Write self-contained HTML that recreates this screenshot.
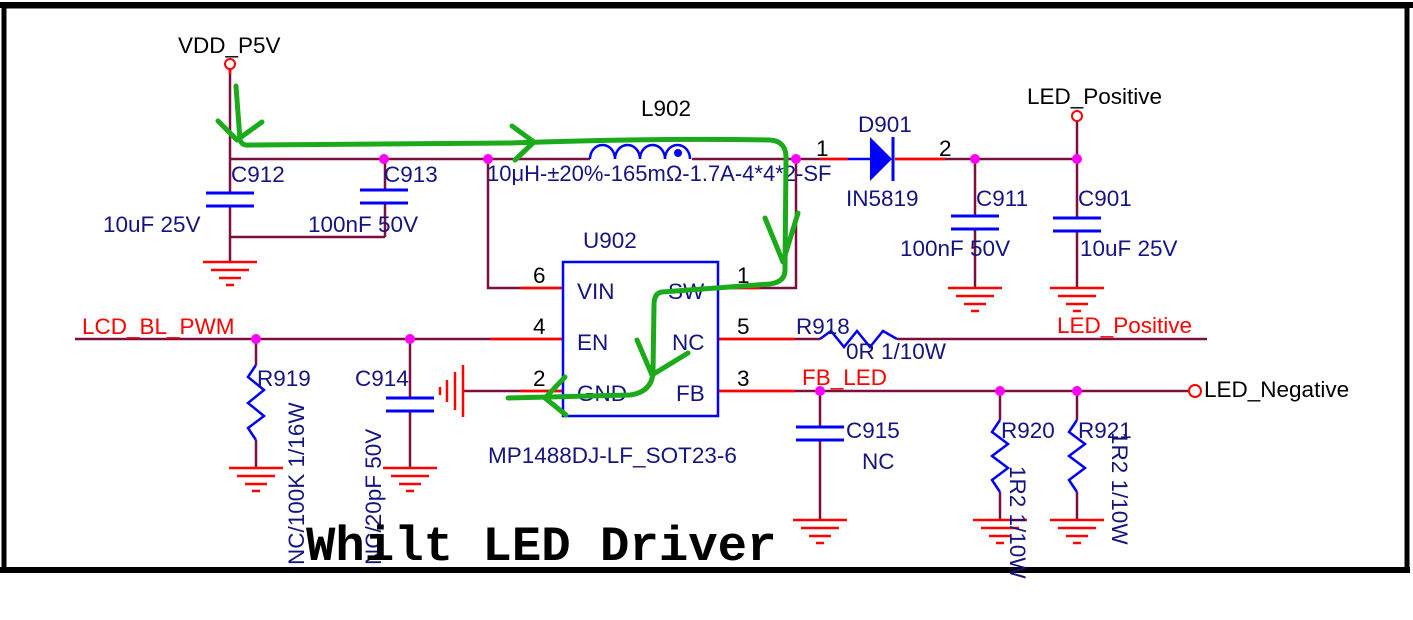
<!DOCTYPE html>
<html><head><meta charset="utf-8"><style>
html,body{margin:0;padding:0;background:#fff;}
svg{display:block;}
text{font-family:"Liberation Sans",sans-serif;font-size:22.5px;}
.b{fill:#141480}.k{fill:#000}.r{fill:#f00}
</style></head><body>
<svg width="1413" height="620" viewBox="0 0 1413 620" xmlns="http://www.w3.org/2000/svg">
<defs>
<g id="gnd"><line x1="-27" y1="0" x2="27" y2="0" stroke="#f00" stroke-width="2.5"/><line x1="-19" y1="8" x2="19" y2="8" stroke="#f00" stroke-width="2.5"/><line x1="-11" y1="16" x2="11" y2="16" stroke="#f00" stroke-width="2.5"/><line x1="-4" y1="23" x2="4" y2="23" stroke="#f00" stroke-width="2.5"/></g>
<g id="capv"><line x1="-24" y1="0" x2="24" y2="0" stroke="#00f" stroke-width="3"/><line x1="-24" y1="13" x2="24" y2="13" stroke="#00f" stroke-width="3"/></g>
</defs>
<rect x="4" y="6" width="1403" height="564" fill="none" stroke="#000" stroke-width="5"/>
<line x1="0" y1="5" x2="1413" y2="5" stroke="#000" stroke-width="6"/>
<line x1="0" y1="570" x2="1410" y2="570" stroke="#000" stroke-width="6"/>

<g fill="none" stroke="#7a1040" stroke-width="2.5">
<line x1="230" y1="68" x2="230" y2="262"/>
<line x1="230" y1="159" x2="590" y2="159"/>
<line x1="692" y1="159" x2="848" y2="159"/>
<line x1="230" y1="237" x2="385" y2="237"/>
<line x1="385" y1="159" x2="385" y2="237"/>
<polyline points="488,159 488,288 563,288"/>
<polyline points="796,159 796,288 718,288"/>
<line x1="895" y1="159" x2="1077" y2="159"/>
<line x1="1077" y1="120" x2="1077" y2="288"/>
<line x1="975" y1="159" x2="975" y2="288"/>
<line x1="75" y1="339" x2="563" y2="339"/>
<line x1="256" y1="339" x2="256" y2="365"/><line x1="256" y1="440" x2="256" y2="468"/>
<line x1="410" y1="339" x2="410" y2="468"/>
<line x1="463" y1="391" x2="563" y2="391"/>
<line x1="718" y1="339" x2="820" y2="339"/>
<line x1="897" y1="339" x2="1207" y2="339"/>
<line x1="718" y1="391" x2="1189" y2="391"/>
<line x1="820" y1="391" x2="820" y2="520"/>
<line x1="1000" y1="391" x2="1000" y2="420"/><line x1="1000" y1="492" x2="1000" y2="520"/>
<line x1="1077" y1="391" x2="1077" y2="420"/><line x1="1077" y1="492" x2="1077" y2="520"/>
</g>
<g stroke="#f00" stroke-width="2.5">
<line x1="520" y1="288" x2="563" y2="288"/><line x1="718" y1="288" x2="760" y2="288"/>
<line x1="490" y1="339" x2="563" y2="339"/><line x1="718" y1="339" x2="795" y2="339"/>
<line x1="520" y1="391" x2="563" y2="391"/><line x1="718" y1="391" x2="795" y2="391"/>
<line x1="230" y1="68" x2="230" y2="74"/>
<line x1="820" y1="159" x2="848" y2="159"/><line x1="895" y1="159" x2="945" y2="159"/>
</g>
<use href="#gnd" x="230" y="262"/><use href="#gnd" x="975" y="288"/><use href="#gnd" x="1077" y="288"/>
<use href="#gnd" x="256" y="468"/><use href="#gnd" x="410" y="468"/><use href="#gnd" x="820" y="520"/>
<use href="#gnd" x="1000" y="520"/><use href="#gnd" x="1077" y="520"/>
<g stroke="#f00" stroke-width="2.5"><line x1="463" y1="365" x2="463" y2="417"/><line x1="455" y1="372" x2="455" y2="410"/><line x1="447" y1="380" x2="447" y2="402"/><line x1="440" y1="387" x2="440" y2="395"/></g>
<g fill="#fff"><rect x="225" y="194" width="10" height="12"/><rect x="380" y="191" width="10" height="12"/><rect x="970" y="217" width="10" height="12"/><rect x="1072" y="219" width="10" height="12"/><rect x="405" y="399" width="10" height="12"/><rect x="815" y="428" width="10" height="12"/></g>
<use href="#capv" x="230" y="193"/><use href="#capv" x="384" y="190"/><use href="#capv" x="975" y="216"/><use href="#capv" x="1077" y="218"/><use href="#capv" x="410" y="398"/><use href="#capv" x="820" y="427"/>
<path d="M590,159 a12.5,14 0 0 1 25,0 a12.5,14 0 0 1 25,0 a12.5,14 0 0 1 25,0 a12.5,14 0 0 1 25,0" fill="none" stroke="#00f" stroke-width="2.5"/>
<circle cx="678" cy="153" r="4" fill="#00f"/>
<polygon points="870,137 870,181 892,159" fill="#00f"/><line x1="893" y1="137" x2="893" y2="181" stroke="#00f" stroke-width="3"/>
<line x1="848" y1="159" x2="870" y2="159" stroke="#00f" stroke-width="2.5"/>
<g fill="none" stroke="#00f" stroke-width="2.5">
<polyline points="256,365 248,377 264,390 248,403 264,416 248,428 256,440"/>
<polyline points="1000,420 992,432 1008,444 992,456 1008,468 992,480 1000,492"/>
<polyline points="1077,420 1069,432 1085,444 1069,456 1085,468 1069,480 1077,492"/>
<polyline points="820,339 831,331 844,347 857,331 870,347 883,331 897,339"/>
</g>
<rect x="563" y="262" width="155" height="154" fill="none" stroke="#00f" stroke-width="2.5"/>
<circle cx="230" cy="64" r="5" fill="#fff" stroke="#f00" stroke-width="2"/>
<circle cx="1077" cy="116" r="5" fill="#fff" stroke="#f00" stroke-width="2"/>
<circle cx="1195" cy="391" r="6" fill="#fff" stroke="#f00" stroke-width="2"/>
<g fill="#f0f"><circle cx="384" cy="159" r="5"/><circle cx="488" cy="159" r="5"/><circle cx="796" cy="159" r="5"/><circle cx="975" cy="159" r="5"/><circle cx="1077" cy="159" r="5"/><circle cx="256" cy="339" r="5"/><circle cx="410" cy="339" r="5"/><circle cx="820" cy="391" r="5"/><circle cx="1000" cy="391" r="5"/><circle cx="1077" cy="391" r="5"/></g>
<text x="178" y="53" class="k">VDD_P5V</text>
<text x="231" y="182" class="b">C912</text><text x="384" y="182" class="b">C913</text>
<text x="103" y="232" class="b">10uF 25V</text><text x="308" y="232" class="b">100nF 50V</text>
<text x="641" y="116" class="k">L902</text>
<text x="487" y="181" class="b" style="font-size:22px">10μH-±20%-165mΩ-1.7A-4*4*2-SF</text>
<text x="858" y="132" class="b">D901</text><text x="846" y="206" class="b">IN5819</text>
<text x="816" y="156" class="k">1</text><text x="939" y="156" class="k">2</text>
<text x="1027" y="104" class="k">LED_Positive</text>
<text x="976" y="206" class="b">C911</text><text x="1078" y="206" class="b">C901</text>
<text x="900" y="256" class="b">100nF 50V</text><text x="1080" y="256" class="b">10uF 25V</text>
<text x="583" y="248" class="b">U902</text>
<text x="577" y="299" class="b">VIN</text><text x="668" y="299" class="b">SW</text>
<text x="577" y="350" class="b">EN</text><text x="672" y="350" class="b">NC</text>
<text x="577" y="401" class="b">GND</text><text x="676" y="401" class="b">FB</text>
<text x="533" y="283" class="k">6</text><text x="533" y="334" class="k">4</text><text x="533" y="386" class="k">2</text>
<text x="737" y="283" class="k">1</text><text x="737" y="334" class="k">5</text><text x="737" y="386" class="k">3</text>
<text x="488" y="463" class="b">MP1488DJ-LF_SOT23-6</text>
<text x="82" y="334" class="r">LCD_BL_PWM</text>
<text x="257" y="386" class="b">R919</text><text x="355" y="386" class="b">C914</text>
<text x="796" y="334" class="b">R918</text><text x="846" y="359" class="b">0R 1/10W</text>
<text x="1057" y="333" class="r">LED_Positive</text>
<text x="802" y="385" class="r">FB_LED</text>
<text x="1204" y="397" class="k">LED_Negative</text>
<text x="846" y="438" class="b">C915</text><text x="862" y="469" class="b">NC</text>
<text x="1001" y="438" class="b">R920</text><text x="1078" y="438" class="b">R921</text>
<text transform="translate(304,565) rotate(-90)" class="b">NC/100K 1/16W</text>
<text transform="translate(381,565) rotate(-90)" class="b">NC/20pF 50V</text>
<text transform="translate(1010,466) rotate(90)" class="b">1R2 1/10W</text>
<text transform="translate(1112,432) rotate(90)" class="b">1R2 1/10W</text>
<text x="306" y="560" style="font-family:'Liberation Mono',monospace;font-weight:bold;font-size:49px" class="k">Whilt LED Driver</text>
<g fill="none" stroke="#1aaa1a" stroke-width="5" stroke-linecap="round" stroke-linejoin="round">
<path d="M236,86 L240,140 Q242,146 250,145 L510,143 Q650,138 770,140 Q787,141 786,160 L785,270 Q785,282 770,284 L662,292 Q654,293 654,305 L653,372 Q652,392 630,395 L508,398"/>
<polyline points="218,121 237,140 262,122"/>
<polyline points="512,126 534,142 515,160"/>
<polyline points="765,218 783,262 798,213"/>
<polyline points="637,340 652,375 688,353"/>
<polyline points="565,377 545,398 566,415"/>
</g>
</svg>
</body></html>
